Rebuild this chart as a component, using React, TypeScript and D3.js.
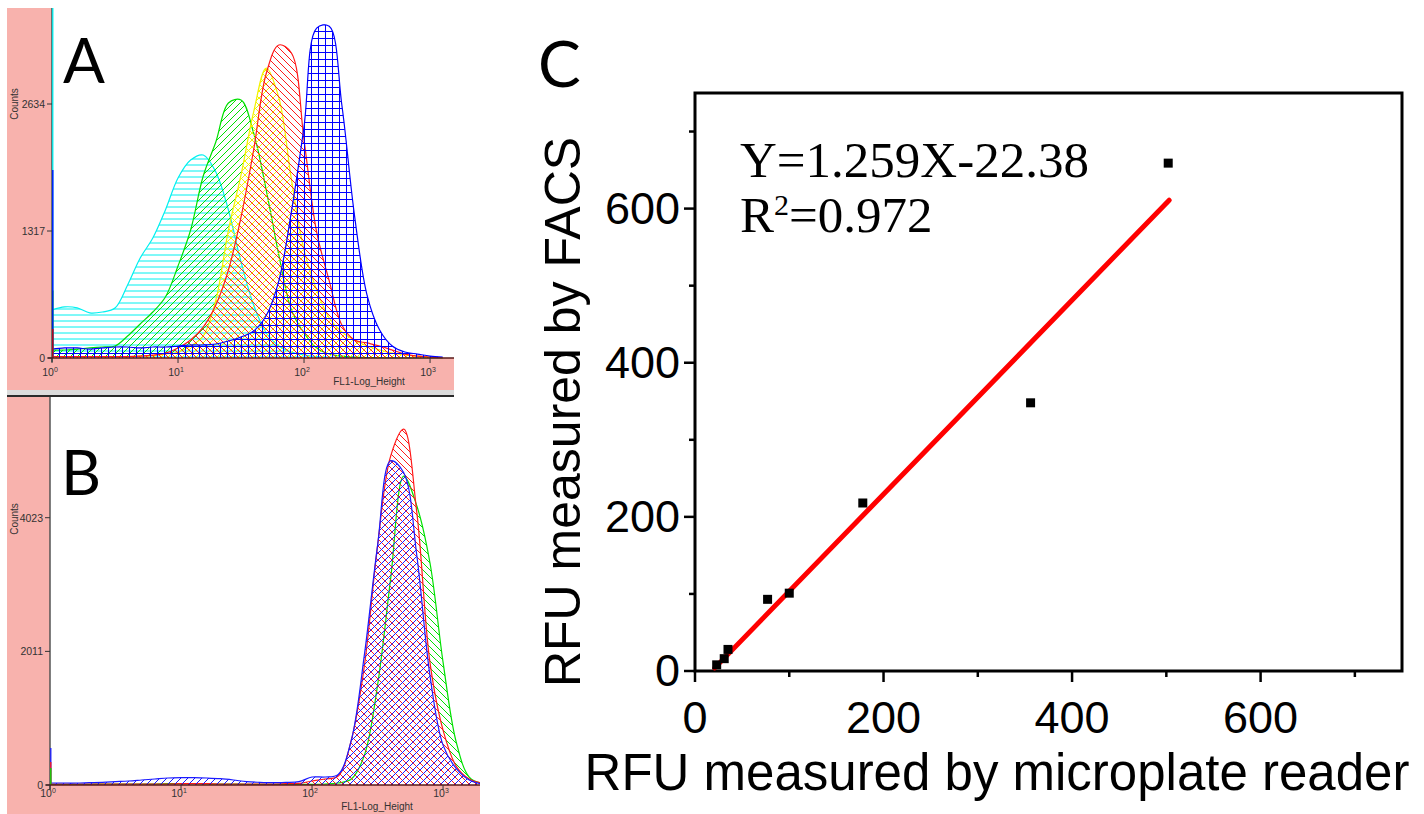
import React from 'react';
import * as d3 from 'd3';

// ---------- Panel A (log10 channel grid, counts) ----------
const logGridA = [0, 0.1, 0.2, 0.3, 0.4, 0.5, 0.6, 0.7, 0.8, 0.9, 1.0, 1.1, 1.2, 1.3, 1.4, 1.5, 1.6, 1.7, 1.8, 1.9, 2.0, 2.1, 2.2, 2.3, 2.4, 2.5, 2.6, 2.7, 2.8, 2.9, 3.0, 3.1];
const cyanA = [498, 530, 520, 467, 477, 518, 757, 1037, 1244, 1535, 1867, 2053, 2105, 1929, 1535, 996, 550, 259, 124, 62, 31, 15, 8, 5, 3, 2, 1, 0, 0, 0, 0, 0];
const greenA = [83, 83, 93, 104, 114, 124, 228, 353, 477, 633, 954, 1327, 1887, 2240, 2644, 2675, 2333, 1742, 1068, 498, 259, 104, 41, 20, 10, 5, 3, 0, 0, 0, 0, 0];
const yellowA = [15, 15, 15, 15, 15, 15, 15, 20, 25, 40, 62, 124, 228, 601, 1327, 1898, 2551, 3007, 2700, 1850, 1120, 705, 415, 270, 187, 124, 83, 52, 31, 20, 10, 0];
const redA = [15, 15, 15, 15, 15, 15, 15, 20, 30, 50, 104, 187, 321, 550, 913, 1462, 2157, 2950, 3246, 3163, 2260, 1307, 800, 342, 187, 156, 124, 83, 41, 20, 10, 0];
const blueA = [93, 104, 104, 93, 104, 114, 114, 104, 114, 114, 124, 135, 135, 145, 176, 218, 280, 440, 800, 1520, 2400, 3420, 3440, 2624, 1483, 653, 290, 124, 62, 41, 20, 10];
const firstChannelA = { cyan: 3700, green: 700, blue: 1950, red: 300 };
const countTicksA = [0, 1317, 2634];

// ---------- Panel B ----------
const logGridB = [0, 0.1, 0.2, 0.3, 0.4, 0.5, 0.6, 0.7, 0.8, 0.9, 1.0, 1.1, 1.2, 1.3, 1.4, 1.5, 1.6, 1.7, 1.8, 1.9, 2.0, 2.1, 2.2, 2.3, 2.4, 2.5, 2.6, 2.7, 2.8, 2.9, 3.0, 3.1, 3.2, 3.3];
const blueB = [30, 30, 30, 35, 40, 50, 60, 75, 90, 105, 110, 110, 105, 95, 75, 50, 40, 35, 40, 50, 120, 120, 160, 675, 1965, 3600, 4880, 4700, 3450, 1650, 600, 250, 75, 15];
const redB = [15, 15, 15, 15, 15, 15, 15, 15, 15, 15, 20, 20, 20, 15, 15, 15, 15, 15, 20, 25, 60, 90, 135, 675, 1800, 3600, 4950, 5355, 4095, 1845, 825, 285, 90, 30];
const greenB = [10, 10, 10, 10, 15, 15, 15, 15, 15, 20, 20, 20, 15, 15, 15, 10, 10, 10, 10, 10, 10, 15, 30, 90, 450, 1500, 3105, 4650, 4200, 3345, 1850, 650, 120, 20];
const firstChannelB = { blue: 555, red: 345, green: 255 };
const countTicksB = [0, 2011, 4023];

const decadeTicks = [0, 1, 2, 3];

// ---------- Panel C ----------
const rfuReader = [23, 31, 35, 77, 100, 178, 356, 502];
const rfuFacs = [8, 16, 28, 93, 101, 218, 348, 659];
const fitSlope = 1.259;
const fitIntercept = -22.38;
const fitRange = [21, 503];
const cMajorTicks = [0, 200, 400, 600];
const cMinorTicks = [100, 300, 500, 700];

const PINK = '#f8b2ad';
const SANS = 'Liberation Sans, Arial, sans-serif';
const SERIF = 'Liberation Serif, Times New Roman, serif';
const LETTER = 'Lato, Open Sans, sans-serif';

type Kind = 'h' | 'grid' | 'fwd' | 'back' | 'cross';

function hatchPath(kind: Kind, s: number) {
  const fwd = `M0,${s} L${s},0 M${-s / 2},${s / 2} L${s / 2},${-s / 2} M${s / 2},${s * 1.5} L${s * 1.5},${s / 2}`;
  const back = `M0,0 L${s},${s} M${-s / 2},${s / 2} L${s / 2},${s * 1.5} M${s / 2},${-s / 2} L${s * 1.5},${s / 2}`;
  if (kind === 'h') return `M0,${s / 2} L${s},${s / 2}`;
  if (kind === 'grid') return `M0,${s / 2} L${s},${s / 2} M${s / 2},0 L${s / 2},${s}`;
  if (kind === 'fwd') return fwd;
  if (kind === 'back') return back;
  return fwd + ' ' + back;
}

function Hatch({ id, color, kind, size }: { id: string; color: string; kind: Kind; size: number }) {
  return (
    <pattern id={id} width={size} height={size} patternUnits="userSpaceOnUse">
      <path d={hatchPath(kind, size)} stroke={color} strokeWidth={1} fill="none" />
    </pattern>
  );
}

export default function App() {
  const xA = d3.scaleLog().domain([1, Math.pow(10, 3.19)]).range([52, 454]);
  const yA = d3.scaleLinear().domain([0, 2634]).range([358, 104]);
  const xB = d3.scaleLog().domain([1, Math.pow(10, 3.282)]).range([50, 480]);
  const yB = d3.scaleLinear().domain([0, 4023]).range([785, 517.7]);
  const xC = d3.scaleLinear().domain([0, 750]).range([695, 1402]);
  const yC = d3.scaleLinear().domain([0, 750]).range([671, 93]);

  const curve = d3.curveCatmullRom.alpha(0.5);
  const makeArea = (grid: number[], xs: any, ys: any) =>
    d3.area<number>()
      .x((_, i) => xs(Math.pow(10, grid[i])))
      .y0(ys(0))
      .y1((d) => ys(d))
      .curve(curve);
  const makeLine = (grid: number[], xs: any, ys: any) =>
    d3.line<number>()
      .x((_, i) => xs(Math.pow(10, grid[i])))
      .y((d) => ys(d))
      .curve(curve);

  const areaA = makeArea(logGridA, xA, yA);
  const lineA = makeLine(logGridA, xA, yA);
  const areaB = makeArea(logGridB, xB, yB);
  const lineB = makeLine(logGridB, xB, yB);

  const seriesA = [
    { id: 'cyanA', data: cyanA, color: '#00f0f0', kind: 'h' as Kind, size: 6 },
    { id: 'greenA', data: greenA, color: '#00e000', kind: 'fwd' as Kind, size: 7 },
    { id: 'yellowA', data: yellowA, color: '#f2f200', kind: 'cross' as Kind, size: 7 },
    { id: 'redA', data: redA, color: '#ff1a1a', kind: 'back' as Kind, size: 7 },
    { id: 'blueA', data: blueA, color: '#0000ff', kind: 'grid' as Kind, size: 7 },
  ];
  const seriesB = [
    { id: 'greenB', data: greenB, color: '#00e000', kind: 'back' as Kind, size: 7 },
    { id: 'redB', data: redB, color: '#ff1a1a', kind: 'back' as Kind, size: 7 },
    { id: 'blueB', data: blueB, color: '#1a1aff', kind: 'fwd' as Kind, size: 7 },
  ];
  const spikeColorsA: Record<string, string> = { cyan: '#00f0f0', green: '#00e000', blue: '#0000ff', red: '#cc0000' };
  const spikeColorsB: Record<string, string> = { blue: '#1a1aff', red: '#ff1a1a', green: '#00e000' };

  const fitLine = d3.line<number>().x((d) => xC(d)).y((d) => yC(fitSlope * d + fitIntercept));

  return (
    <svg width={1424} height={814} style={{ position: 'absolute', left: 0, top: 0, display: 'block', background: '#fff' }}>
      <defs>
        {seriesA.map((s) => <Hatch key={s.id} id={'pat-' + s.id} color={s.color} kind={s.kind} size={s.size} />)}
        {seriesB.map((s) => <Hatch key={s.id} id={'pat-' + s.id} color={s.color} kind={s.kind} size={s.size} />)}
        <clipPath id="clipA"><rect x={52} y={8} width={402} height={350.5} /></clipPath>
        <clipPath id="clipB"><rect x={50} y={397} width={430} height={388.5} /></clipPath>
      </defs>
      <rect x={0} y={0} width={1424} height={814} fill="#fff" />

      {/* ---------------- Panel A ---------------- */}
      <rect x={7} y={8} width={447} height={382} fill={PINK} />
      <rect x={52} y={8} width={402} height={350} fill="#fff" />
      <g clipPath="url(#clipA)">
        {seriesA.map((s) => (
          <g key={s.id}>
            <path d={areaA(s.data) || ''} fill={`url(#pat-${s.id})`} />
            <path d={lineA(s.data) || ''} fill="none" stroke={s.color} strokeWidth={1.2} />
          </g>
        ))}
      </g>
      <line x1={52} x2={52} y1={8} y2={362} stroke="#3a5a5a" strokeWidth={1.5} />
      {Object.entries(firstChannelA).map(([k, v]) => (
        <line key={k} x1={52.8} x2={52.8} y1={yA(0)} y2={Math.max(8, yA(v))} stroke={spikeColorsA[k]} strokeWidth={1.3} />
      ))}
      <line x1={48} x2={454} y1={358} y2={358} stroke="#5a1a1a" strokeWidth={1.5} />
      {countTicksA.map((t) => (
        <g key={t}>
          <line x1={47} x2={52} y1={yA(t)} y2={yA(t)} stroke="#333" strokeWidth={1} />
          <text x={45} y={yA(t) + 4} textAnchor="end" fontFamily={SANS} fontSize={10.5} fill="#333">{t}</text>
        </g>
      ))}
      {decadeTicks.map((t) => (
        <g key={t}>
          <line x1={xA(Math.pow(10, t))} x2={xA(Math.pow(10, t))} y1={358} y2={363} stroke="#333" strokeWidth={1} />
          <text x={xA(Math.pow(10, t)) - 2} y={376} textAnchor="middle" fontFamily={SANS} fontSize={10.5} fill="#333">
            10<tspan dy={-4} fontSize={7}>{t}</tspan>
          </text>
        </g>
      ))}
      <text x={369} y={385} textAnchor="middle" fontFamily={SANS} fontSize={10} fill="#333">FL1-Log_Height</text>
      <text transform="translate(18,104) rotate(-90)" textAnchor="middle" fontFamily={SANS} fontSize={10} fill="#333">Counts</text>
      <text x={63} y={83} fontFamily={LETTER} fontSize={62} fill="#000">A</text>
      <rect x={7} y={390} width={447} height={5} fill="#dcdcdc" />
      <rect x={7} y={395} width={447} height={2.2} fill="#2a2a2a" />

      {/* ---------------- Panel B ---------------- */}
      <rect x={7} y={397} width={473} height={417} fill={PINK} />
      <rect x={50} y={397} width={430} height={388} fill="#fff" />
      <g clipPath="url(#clipB)">
        {seriesB.map((s) => (
          <g key={s.id}>
            <path d={areaB(s.data) || ''} fill={`url(#pat-${s.id})`} />
            <path d={lineB(s.data) || ''} fill="none" stroke={s.color} strokeWidth={1.2} />
          </g>
        ))}
      </g>
      <line x1={50} x2={50} y1={397} y2={789} stroke="#555" strokeWidth={1.5} />
      {Object.entries(firstChannelB).map(([k, v]) => (
        <line key={k} x1={50.8} x2={50.8} y1={yB(0)} y2={yB(v)} stroke={spikeColorsB[k]} strokeWidth={1.3} />
      ))}
      <line x1={46} x2={480} y1={785} y2={785} stroke="#5a1a1a" strokeWidth={1.5} />
      {countTicksB.map((t) => (
        <g key={t}>
          <line x1={45} x2={50} y1={yB(t)} y2={yB(t)} stroke="#333" strokeWidth={1} />
          <text x={43} y={yB(t) + 4} textAnchor="end" fontFamily={SANS} fontSize={10.5} fill="#333">{t}</text>
        </g>
      ))}
      {decadeTicks.map((t) => (
        <g key={t}>
          <line x1={xB(Math.pow(10, t))} x2={xB(Math.pow(10, t))} y1={785} y2={790} stroke="#333" strokeWidth={1} />
          <text x={xB(Math.pow(10, t)) - 2} y={797} textAnchor="middle" fontFamily={SANS} fontSize={10.5} fill="#333">
            10<tspan dy={-4} fontSize={7}>{t}</tspan>
          </text>
        </g>
      ))}
      <text x={377} y={810} textAnchor="middle" fontFamily={SANS} fontSize={10} fill="#333">FL1-Log_Height</text>
      <text transform="translate(18,519) rotate(-90)" textAnchor="middle" fontFamily={SANS} fontSize={10} fill="#333">Counts</text>
      <text x={61} y={495} fontFamily={LETTER} fontSize={62} fill="#000">B</text>

      {/* ---------------- Panel C ---------------- */}
      <text x={538} y={87} fontFamily={LETTER} fontSize={64} fill="#000">C</text>
      <rect x={xC(0)} y={yC(750)} width={xC(750) - xC(0)} height={yC(0) - yC(750)} fill="none" stroke="#000" strokeWidth={3} />
      {cMajorTicks.map((t) => (
        <g key={'M' + t}>
          <line x1={xC(0) - 11} x2={xC(0)} y1={yC(t)} y2={yC(t)} stroke="#000" strokeWidth={2.5} />
          <line x1={xC(t)} x2={xC(t)} y1={yC(0)} y2={yC(0) + 11} stroke="#000" strokeWidth={2.5} />
          <text x={680} y={yC(t) + 15} textAnchor="end" fontFamily={SANS} fontSize={45} fill="#000">{t}</text>
          <text x={xC(t)} y={733} textAnchor="middle" fontFamily={SANS} fontSize={45} fill="#000">{t}</text>
        </g>
      ))}
      {cMinorTicks.map((t) => (
        <g key={'m' + t}>
          <line x1={xC(0) - 6} x2={xC(0)} y1={yC(t)} y2={yC(t)} stroke="#000" strokeWidth={2.5} />
          <line x1={xC(t)} x2={xC(t)} y1={yC(0)} y2={yC(0) + 6} stroke="#000" strokeWidth={2.5} />
        </g>
      ))}
      <path d={fitLine(fitRange) || ''} fill="none" stroke="#ff0000" strokeWidth={5} strokeLinecap="round" />
      {rfuReader.map((x, i) => (
        <rect key={i} x={xC(x) - 4.5} y={yC(rfuFacs[i]) - 4.5} width={9} height={9} fill="#000" />
      ))}
      <text x={740} y={177} fontFamily={SERIF} fontSize={51} fill="#000">Y=1.259X-22.38</text>
      <text x={740} y={232} fontFamily={SERIF} fontSize={51} fill="#000">
        R<tspan dy={-17} fontSize={30}>2</tspan><tspan dy={17}>=0.972</tspan>
      </text>
      <text transform="translate(580,412) rotate(-90)" textAnchor="middle" fontFamily={SANS} fontSize={50} fill="#000">RFU measured by FACS</text>
      <text x={997} y={790} textAnchor="middle" fontFamily={SANS} fontSize={51} fill="#000">RFU measured by microplate reader</text>
    </svg>
  );
}
